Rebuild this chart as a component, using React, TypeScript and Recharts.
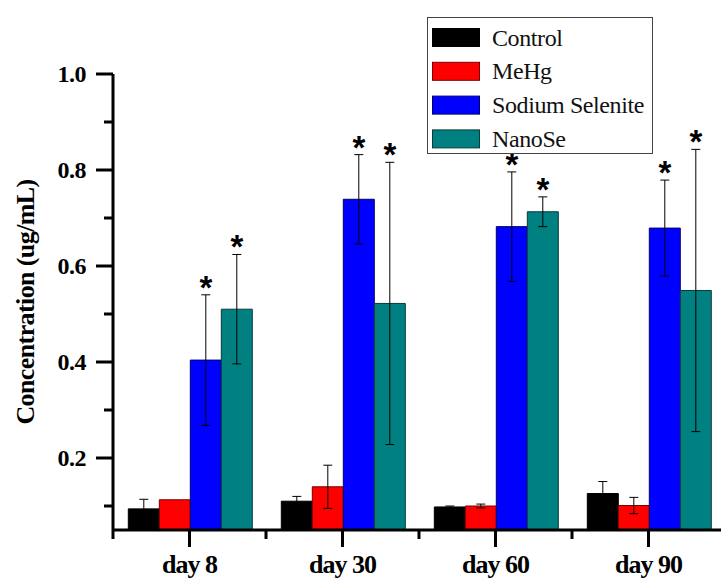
import React from 'react';
import { BarChart, Bar, XAxis, YAxis, ErrorBar, LabelList } from 'recharts';

const categories = ['day 8', 'day 30', 'day 60', 'day 90'];
const control = [0.094, 0.110, 0.098, 0.126];
const controlErr = [0.020, 0.010, 0.002, 0.025];
const mehg = [0.113, 0.140, 0.100, 0.101];
const mehgErr = [0.0, 0.045, 0.004, 0.017];
const selenite = [0.404, 0.739, 0.682, 0.679];
const seleniteErr = [0.136, 0.093, 0.114, 0.100];
const nanose = [0.510, 0.522, 0.713, 0.549];
const nanoseErr = [0.114, 0.294, 0.031, 0.294];

const yMin = 0.05;
const yMax = 1.0;
const yTicks = [0.1, 0.2, 0.3, 0.4, 0.5, 0.6, 0.7, 0.8, 0.9, 1.0];
const yLabelTicks = [0.2, 0.4, 0.6, 0.8, 1.0];

const seriesNames = ['Control', 'MeHg', 'Sodium Selenite', 'NanoSe'];
const fills = ['#000000', '#ff0000', '#0000ff', '#008080'];
const strokes = ['#000000', '#7a0000', '#00006a', '#0a3a3a'];

const data = categories.map((c, i) => ({
  cat: c,
  control: control[i],
  controlErr: controlErr[i],
  mehg: mehg[i],
  mehgErr: mehgErr[i],
  selenite: selenite[i],
  seleniteErr: seleniteErr[i],
  nanose: nanose[i],
  nanoseErr: nanoseErr[i],
}));

const SERIF = '"Liberation Serif", "Times New Roman", Times, serif';
const SANS = '"Liberation Sans", Arial, sans-serif';

const YTick = (props: any) => {
  const { x, y, payload } = props;
  const v = Math.round(payload.value * 10) / 10;
  const major = yLabelTicks.some((t) => Math.abs(t - v) < 1e-6);
  return (
    <g>
      <line x1={x - (major ? 17 : 9)} x2={x} y1={y} y2={y} stroke="#000" strokeWidth={3} />
      {major && (
        <text x={x - 27} y={y} dy="0.35em" textAnchor="end" style={{ fontFamily: SERIF, fontWeight: 'bold', fontSize: 24, letterSpacing: -0.5 }} fill="#000">
          {v.toFixed(1)}
        </text>
      )}
    </g>
  );
};

const XTick = (props: any) => {
  const { x, y, payload, index, width, visibleTicksCount } = props;
  const half = payload && payload.offset ? payload.offset : width / (2 * (visibleTicksCount || categories.length));
  const isLast = index === categories.length - 1;
  return (
    <g>
      <line x1={x} x2={x} y1={y} y2={y + 17} stroke="#000" strokeWidth={3} />
      <line x1={x - half} x2={x - half} y1={y} y2={y + 9} stroke="#000" strokeWidth={3} />
      {isLast && <line x1={x + half} x2={x + half} y1={y} y2={y + 9} stroke="#000" strokeWidth={3} />}
      <text x={x} y={y + 43} textAnchor="middle" style={{ fontFamily: SERIF, fontWeight: 'bold', fontSize: 26, letterSpacing: -1 }} fill="#000">
        {payload.value}
      </text>
    </g>
  );
};

const makeStar = (errArr: number[]) => (props: any) => {
  const { x, y, width, height, value, index } = props;
  if (value == null) return null;
  const pxPerUnit = height / (value - yMin);
  const errTop = y - errArr[index] * pxPerUnit;
  return (
    <text x={x + width / 2} y={errTop + 4} textAnchor="middle" style={{ fontFamily: SANS, fontWeight: 'bold', fontSize: 33 }} fill="#000">
      *
    </text>
  );
};

const YLabel = (props: any) => {
  const vb = props.viewBox || { x: 0, y: 74, width: 113, height: 456 };
  const cx = vb.x + 25;
  const cy = vb.y + vb.height / 2;
  return (
    <text x={cx} y={cy} transform={`rotate(-90, ${cx}, ${cy})`} textAnchor="middle" dominantBaseline="central" style={{ fontFamily: SERIF, fontWeight: 'bold', fontSize: 26, letterSpacing: -0.6 }} fill="#000">
      Concentration (ug/mL)
    </text>
  );
};

const LegendBox = () => (
  <svg width={227} height={138} style={{ display: 'block' }}>
    <rect x={0.5} y={0.5} width={225} height={136} fill="#fff" stroke="#444" strokeWidth={1} />
    {seriesNames.map((n, i) => (
      <g key={n}>
        <rect x={5.5} y={11.5 + i * 33.8} width={47} height={18} fill={fills[i]} stroke={strokes[i]} strokeWidth={1} />
        <text x={65} y={28.5 + i * 33.8} fontFamily="Liberation Serif, Times New Roman, serif" fontWeight="normal" fontSize={24} letterSpacing={-0.4} fill="#111">
          {n}
        </text>
      </g>
    ))}
  </svg>
);

export default function App() {
  return (
    <div style={{ position: 'absolute', left: 0, top: 0, width: 721, height: 581, overflow: 'hidden', background: '#fff', fontFamily: 'serif' }}>
      <BarChart width={730} height={581} data={data} margin={{ top: 74, right: 5, bottom: 0, left: 0 }} barCategoryGap="10%" barGap={0}>
        <XAxis dataKey="cat" height={51} tickSize={0} tickMargin={0} tickLine={false} axisLine={{ stroke: '#000', strokeWidth: 3 }} tick={<XTick />} interval={0} />
        <YAxis width={113} domain={[yMin, yMax]} ticks={yTicks} allowDataOverflow tickSize={0} tickMargin={0} tickLine={false} axisLine={{ stroke: '#000', strokeWidth: 3 }} tick={<YTick />} label={YLabel} />
        <Bar dataKey="control" name="Control" fill={fills[0]} stroke={strokes[0]} strokeWidth={1} isAnimationActive={false}>
          <ErrorBar dataKey="controlErr" width={4.5} stroke="#000" strokeWidth={1} direction="y" />
        </Bar>
        <Bar dataKey="mehg" name="MeHg" fill={fills[1]} stroke={strokes[1]} strokeWidth={1} isAnimationActive={false}>
          <ErrorBar dataKey="mehgErr" width={4.5} stroke="#000" strokeWidth={1} direction="y" />
        </Bar>
        <Bar dataKey="selenite" name="Sodium Selenite" fill={fills[2]} stroke={strokes[2]} strokeWidth={1} isAnimationActive={false}>
          <ErrorBar dataKey="seleniteErr" width={4.5} stroke="#000" strokeWidth={1} direction="y" />
          <LabelList dataKey="selenite" content={makeStar(seleniteErr)} />
        </Bar>
        <Bar dataKey="nanose" name="NanoSe" fill={fills[3]} stroke={strokes[3]} strokeWidth={1} isAnimationActive={false}>
          <ErrorBar dataKey="nanoseErr" width={4.5} stroke="#000" strokeWidth={1} direction="y" />
          <LabelList dataKey="nanose" content={makeStar(nanoseErr)} />
        </Bar>
      </BarChart>
      <div style={{ position: 'absolute', left: 427, top: 17 }}>
        <LegendBox />
      </div>
    </div>
  );
}
